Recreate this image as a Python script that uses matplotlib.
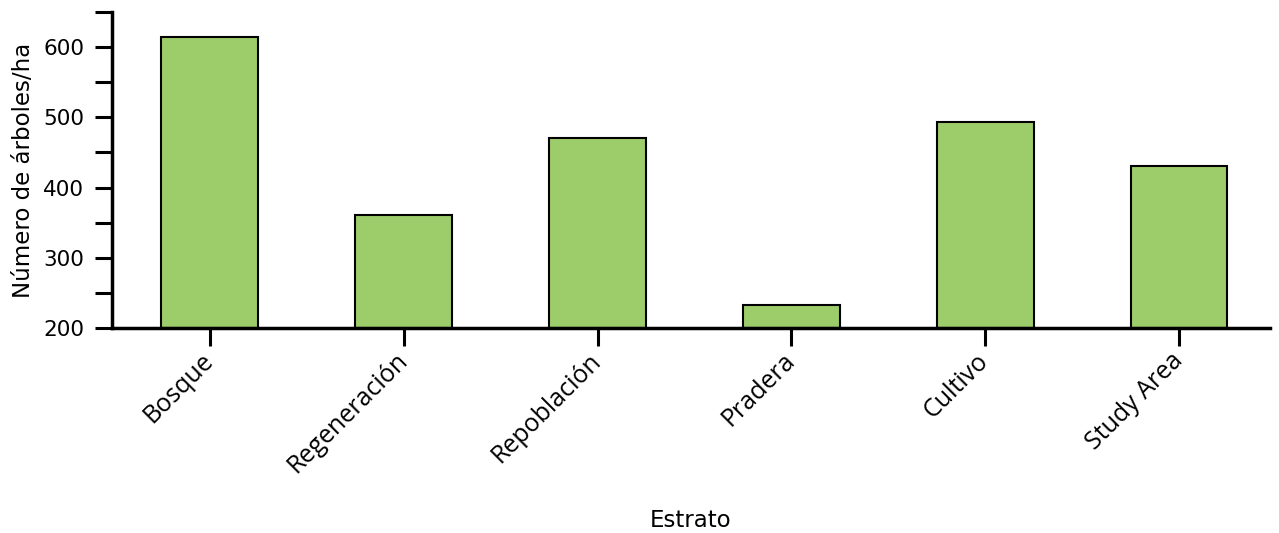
import matplotlib.pyplot as plt
from matplotlib.ticker import MultipleLocator

categories = ["Bosque", "Regeneración", "Repoblación", "Pradera", "Cultivo", "Study Area"]
arboles_ha = [615, 361, 470, 233, 493, 430]

fig = plt.figure(figsize=(12.79, 5.33), dpi=100)
ax = fig.add_axes([0.0876, 0.3846, 0.9054, 0.593])

x = list(range(len(categories)))
ax.bar(x, [v - 200 for v in arboles_ha], bottom=200, width=0.5,
       color="#9DCC6B", edgecolor="black", linewidth=1.5)

ax.set_ylim(200, 650)
ax.set_xlim(-0.505, 5.47)
ax.yaxis.set_major_locator(MultipleLocator(100))
ax.yaxis.set_minor_locator(MultipleLocator(50))

for s in ("top", "right"):
    ax.spines[s].set_visible(False)
for s in ("left", "bottom"):
    ax.spines[s].set_linewidth(2.5)
ax.spines["left"].set_bounds(200, 650)

ax.tick_params(axis="y", which="both", length=12, width=2.2, labelsize=15.5, pad=8)
ax.tick_params(axis="x", length=13, width=2.2, pad=8)
ax.set_xticks(x)
ax.set_xticklabels(categories, rotation=45, ha="right", va="center",
                   rotation_mode="anchor", fontsize=18, family="Open Sans")

ax.set_ylabel("Número de árboles/ha", fontsize=16.5, labelpad=6)
ax.set_xlabel("Estrato", fontsize=16.5, va="center")
ax.xaxis.set_label_coords(0.5, -0.608)

plt.savefig("out.png", dpi=100)
